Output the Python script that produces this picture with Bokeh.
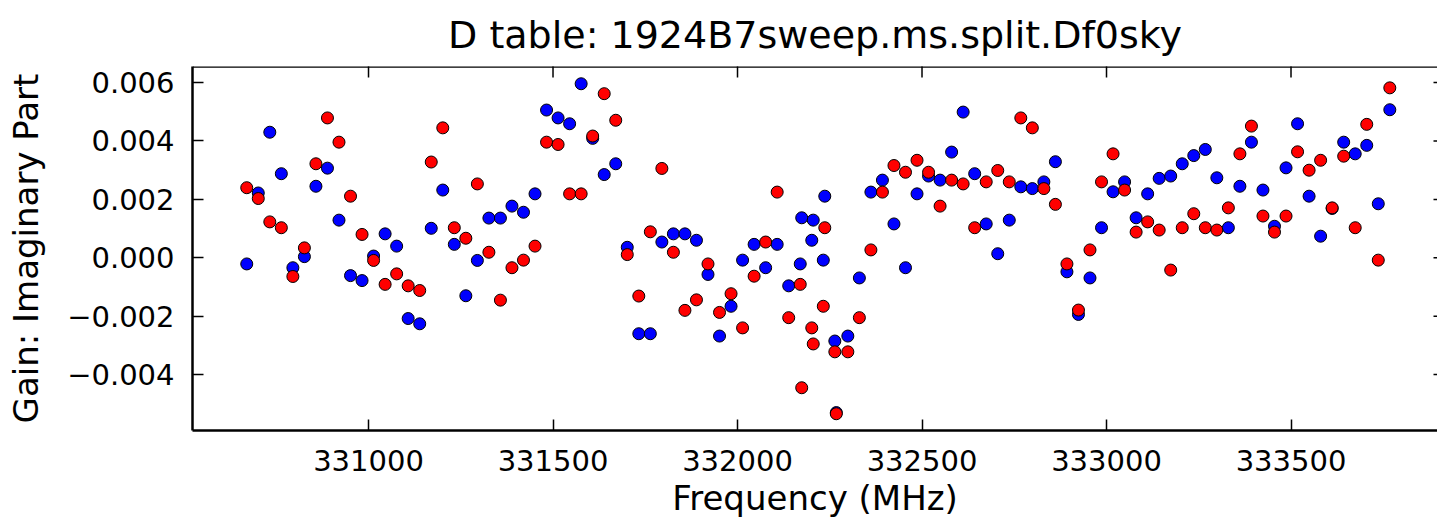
import math
from bokeh.plotting import figure
from bokeh.models import ColumnDataSource, FixedTicker, CustomJSTickFormatter, LinearAxis, Range1d, Span
from bokeh.embed import file_html
from bokeh.resources import INLINE

title_text = "D table: 1924B7sweep.ms.split.Df0sky"
x_label = "Frequency (MHz)"
y_label = "Gain: Imaginary Part"
x_ticks = [331000, 331500, 332000, 332500, 333000, 333500]
y_ticks = [-0.004, -0.002, 0.0, 0.002, 0.004, 0.006]
x_lo, x_hi = 330523, 333897
y_lo, y_hi = -0.005914, 0.006551

# channel frequencies (MHz), spectral window 1 and 2
freq_spw1 = [330670.00, 330701.25, 330732.50, 330763.75, 330795.00, 330826.25, 330857.50, 330888.75,
             330920.00, 330951.25, 330982.50, 331013.75, 331045.00, 331076.25, 331107.50, 331138.75,
             331170.00, 331201.25, 331232.50, 331263.75, 331295.00, 331326.25, 331357.50, 331388.75,
             331420.00, 331451.25, 331482.50, 331513.75, 331545.00, 331576.25, 331607.50, 331638.75,
             331670.00, 331701.25, 331732.50, 331763.75, 331795.00, 331826.25, 331857.50, 331888.75,
             331920.00, 331951.25, 331982.50, 332013.75, 332045.00, 332076.25, 332107.50, 332138.75,
             332170.00, 332201.25, 332232.50, 332263.75]
freq_spw2 = [332174.00, 332205.25, 332236.50, 332267.75, 332299.00, 332330.25, 332361.50, 332392.75,
             332424.00, 332455.25, 332486.50, 332517.75, 332549.00, 332580.25, 332611.50, 332642.75,
             332674.00, 332705.25, 332736.50, 332767.75, 332799.00, 332830.25, 332861.50, 332892.75,
             332924.00, 332955.25, 332986.50, 333017.75, 333049.00, 333080.25, 333111.50, 333142.75,
             333174.00, 333205.25, 333236.50, 333267.75, 333299.00, 333330.25, 333361.50, 333392.75,
             333424.00, 333455.25, 333486.50, 333517.75, 333549.00, 333580.25, 333611.50, 333642.75,
             333674.00, 333705.25, 333736.50, 333767.75]

# imaginary part of gain, in units of 1e-3
blue_spw1 = [-0.21, 2.22, 4.30, 2.88, -0.34, 0.04, 2.45, 3.07, 1.29, -0.61, -0.78, 0.06, 0.82,
             0.40, -2.08, -2.26, 1.01, 2.32, 0.46, -1.30, -0.09, 1.36, 1.36, 1.77, 1.56, 2.19,
             5.06, 4.79, 4.59, 5.96, 4.09, 2.85, 3.22, 0.36, -2.60, -2.60, 0.54, 0.82, 0.82,
             0.60, -0.57, -2.68, -1.66, -0.08, 0.46, -0.34, 0.46, -0.96, -0.21, 0.60, -0.08, -2.85]
red_spw1 = [2.40, 2.03, 1.23, 1.03, -0.64, 0.34, 3.22, 4.79, 3.96, 2.11, 0.80, -0.09, -0.91,
            -0.55, -0.96, -1.12, 3.28, 4.45, 1.03, 0.67, 2.53, 0.19, -1.45, -0.34, -0.08, 0.40,
            3.96, 3.88, 2.19, 2.19, 4.17, 5.62, 4.71, 0.11, -1.31, 0.89, 3.06, 0.19, -1.80,
            -1.44, -0.21, -1.87, -1.23, -2.40, -0.63, 0.54, 2.25, -2.05, -0.91, -2.40, -1.66, -3.22]
blue_spw2 = [1.37, 1.29, 2.11, -5.30, -2.68, -0.69, 2.25, 2.66, 1.16, -0.34, 2.19, 2.80, 2.66,
             3.62, 4.99, 2.88, 1.16, 0.14, 1.29, 2.43, 2.37, 2.60, 3.29, -0.48, -1.94, -0.69,
             1.03, 2.26, 2.60, 1.37, 2.19, 2.72, 2.80, 3.22, 3.50, 3.71, 2.74, 1.03, 2.45,
             3.96, 2.32, 1.08, 3.08, 4.59, 2.11, 0.74, 1.69, 3.96, 3.56, 3.85, 1.85, 5.07]
red_spw2 = [-4.45, -2.95, 1.03, -5.34, -3.22, -2.05, 0.27, 2.25, 3.16, 2.93, 3.34, 2.93, 1.77,
            2.66, 2.53, 1.03, 2.60, 2.99, 2.60, 4.79, 4.45, 2.37, 1.83, -0.21, -1.79, 0.27,
            2.60, 3.56, 2.32, 0.88, 1.23, 0.95, -0.42, 1.03, 1.51, 1.03, 0.95, 1.71, 3.56,
            4.51, 1.43, 0.88, 1.43, 3.63, 3.00, 3.34, 1.71, 3.48, 1.03, 4.57, -0.08, 5.82]

freqs = freq_spw1 + freq_spw2
blue_src = ColumnDataSource(dict(x=freqs, y=[v * 1e-3 for v in blue_spw1 + blue_spw2]))
red_src = ColumnDataSource(dict(x=freqs, y=[v * 1e-3 for v in red_spw1 + red_spw2]))

FONT = "DejaVu Sans"

p = figure(width=1437, height=520, output_backend="svg", toolbar_location=None,
           x_range=Range1d(x_lo, x_hi), y_range=Range1d(y_lo, y_hi),
           min_border_left=192, min_border_right=0, min_border_top=66, min_border_bottom=90,
           x_axis_type=None, y_axis_type=None)
p.outline_line_color = None
p.background_fill_color = "white"
p.border_fill_color = "white"

p.title.text = title_text
p.title.text_font = FONT
p.title.text_font_size = "38px"
p.title.text_font_style = "normal"
p.title.text_color = "black"
p.title.align = "center"
p.title.vertical_align = "middle"
p.title.standoff = 18

x_fmt = CustomJSTickFormatter(code="return tick.toFixed(0);")
y_fmt = CustomJSTickFormatter(code="return (tick < -1e-12 ? '\u2212' : '') + Math.abs(tick).toFixed(3);")


def style(ax, ticks, fmt):
    ax.ticker = FixedTicker(ticks=ticks)
    ax.formatter = fmt
    ax.axis_line_color = "black"
    ax.axis_line_width = 2.5
    ax.major_tick_in = 11
    ax.major_tick_out = 0
    ax.major_tick_line_width = 1.5
    ax.major_tick_line_color = "black"
    ax.minor_tick_in = 0
    ax.minor_tick_out = 0
    ax.major_label_text_font = FONT
    ax.major_label_text_font_size = "29px"
    ax.major_label_text_color = "black"
    ax.axis_label_text_font = FONT
    ax.axis_label_text_font_style = "normal"
    ax.axis_label_text_font_size = "34px"
    ax.axis_label_text_color = "black"


xb = LinearAxis(axis_label=x_label)
style(xb, x_ticks, x_fmt)
xb.major_label_standoff = 19
xb.axis_label_standoff = 4
p.add_layout(xb, "below")

yl = LinearAxis(axis_label=y_label)
style(yl, y_ticks, y_fmt)
yl.major_label_standoff = 18
yl.axis_label_standoff = 18
p.add_layout(yl, "left")

# top spine and inward tick marks on the top and right edges
p.add_layout(Span(location=y_hi, dimension="width", line_color="black", line_width=2.5))
p.scatter(x=x_ticks, y=[y_hi] * len(x_ticks), marker="dash", angle=math.pi / 2, size=22,
          line_color="black", line_width=1.5)
p.scatter(x=[x_hi] * len(y_ticks), y=y_ticks, marker="dash", size=8,
          line_color="black", line_width=1.5)

p.scatter("x", "y", source=blue_src, size=12, fill_color="#0000ff", line_color="black", line_width=1)
p.scatter("x", "y", source=red_src, size=12, fill_color="#ff0000", line_color="black", line_width=1)

open("out.html", "w").write(file_html(p, INLINE))
